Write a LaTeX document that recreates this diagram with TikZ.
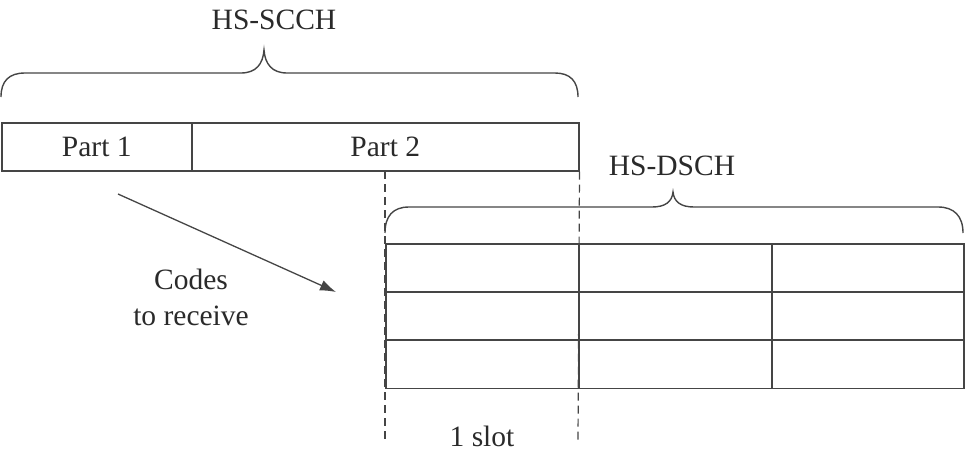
\documentclass[tikz,border=0pt]{standalone}
\usepackage{fontspec}
\setmainfont{Liberation Serif}
\usetikzlibrary{arrows.meta}
\definecolor{ln}{HTML}{454545}
\definecolor{tx}{HTML}{2A2A2A}
\begin{document}
\begin{tikzpicture}[x=1pt,y=-1pt,
  every node/.style={text=tx,font=\fontsize{29.5}{36}\selectfont},
  cell/.style={draw=ln,line width=1.5pt,inner sep=0pt,anchor=north west},
  brace/.style={draw=ln,line width=1.4pt},
  guide/.style={draw=ln,line width=1.2pt,dash pattern=on 8pt off 5pt},
  conn/.style={draw=ln,line width=1.3pt,-{Latex[length=16pt,width=11pt]}},
  lbl/.style={anchor=base,inner sep=0pt}]
\useasboundingbox (0,0) rectangle (966,453);
% HS-SCCH parts
\node[cell,minimum width=190pt,minimum height=48pt] (p1) at (1,122) {Part 1};
\node[cell,minimum width=387pt,minimum height=48pt] (p2) at (191,122) {Part 2};
% HS-SCCH brace
\draw[brace] (1,97) .. controls (1,81) and (9,73) .. (25,73) -- (241,73)
  .. controls (256,73) and (263,64) .. (264,50)
  .. controls (265,64) and (272,73) .. (287,73) -- (555,73)
  .. controls (570,73) and (578,81) .. (578,97);
\node[lbl] (scch) at (274,29) {HS-SCCH};
% HS-DSCH grid
\foreach \r/\y in {1/243,2/291,3/339}{
  \node[cell,minimum width=193pt,minimum height=48.5pt] (c\r1) at (385,\y) {};
  \node[cell,minimum width=193pt,minimum height=48.5pt] (c\r2) at (578,\y) {};
  \node[cell,minimum width=192pt,minimum height=48.5pt] (c\r3) at (771,\y) {};
}
% HS-DSCH brace
\draw[brace] (385,233) .. controls (385,216) and (393,207) .. (409,207) -- (652,207)
  .. controls (665,207) and (672,202) .. (673,192)
  .. controls (674,202) and (681,207) .. (694,207) -- (938,207)
  .. controls (954,207) and (963,216) .. (963,233);
\node[lbl] (dsch) at (672,175) {HS-DSCH};
% slot guides
\coordinate (g1t) at (385,171);
\coordinate (g1b) at (385,440);
\coordinate (g2t) at (p2.south east);
\coordinate (g2b) at (578,440);
\draw[guide] (g1t) -- (g1b);
\draw[guide] (g2t) -- (g2b);
\node[lbl] (slot) at (482,446) {1 slot};
% arrow
\coordinate (a1) at (118,194);
\coordinate (a2) at (336,292);
\draw[conn] (a1) -- (a2);
\node[align=center,inner sep=0pt] (codes) at (191,297) {Codes\\to receive};
\end{tikzpicture}
\end{document}
